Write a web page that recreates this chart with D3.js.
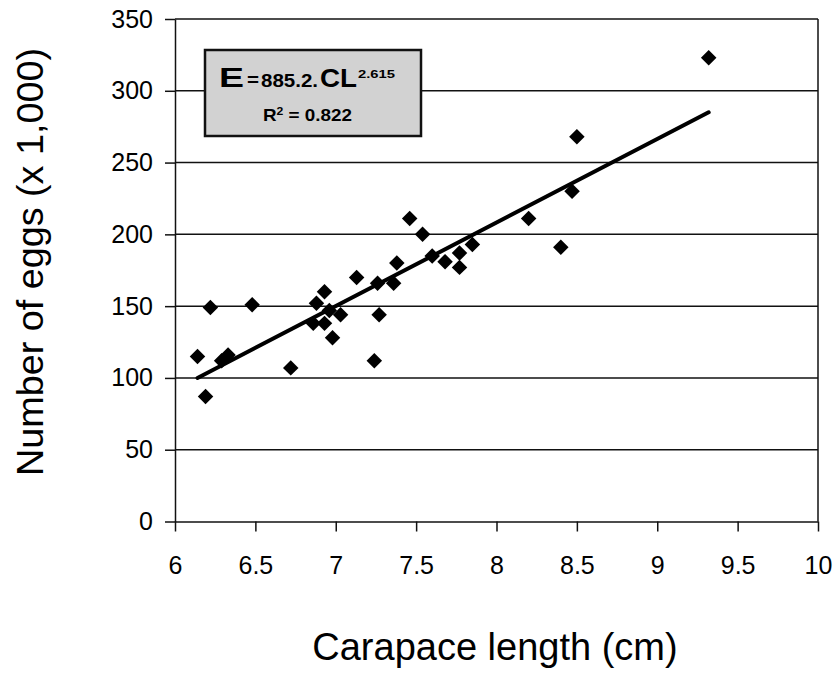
<!DOCTYPE html>
<html>
<head>
<meta charset="utf-8">
<script src="https://cdn.jsdelivr.net/npm/d3@7/dist/d3.min.js"></script>
<style>
    body { margin: 0; background: #fff; }
    svg { display: block; }
    text { font-family: "Liberation Sans", Arial, sans-serif; fill: #000; }
</style>
</head>
<body>
<script>
// carapace length (cm) and number of eggs (x 1,000)
var lengths = [6.14, 6.19, 6.22, 6.29, 6.33, 6.48, 6.72, 6.86, 6.88, 6.93, 6.93, 6.96, 6.98, 7.03,
               7.13, 7.24, 7.26, 7.27, 7.36, 7.38, 7.46, 7.54, 7.60, 7.68, 7.77, 7.77, 7.85,
               8.20, 8.40, 8.47, 8.50, 9.32];
var eggs = [115, 87, 149, 112, 116, 151, 107, 138, 152, 160, 138, 147, 128, 144,
            170, 112, 166, 144, 166, 180, 211, 200, 185, 181, 187, 177, 193,
            211, 191, 230, 268, 323];

// fitted line as drawn
var trendX = [6.14, 9.32];
var trendY = [100, 285];

var xTicks = [6, 6.5, 7, 7.5, 8, 8.5, 9, 9.5, 10];
var yTicks = [0, 50, 100, 150, 200, 250, 300, 350];

var width = 839;
var height = 675;

var svg = d3.select('body')
    .append('svg')
    .attr('width', width)
    .attr('height', height);

var x = d3.scaleLinear().domain([6, 10]).range([175, 818]);
var y = d3.scaleLinear().domain([0, 350]).range([521.5, 19]);

// gridlines
svg.append('g')
    .selectAll('line')
    .data(yTicks.filter(d => d > 0))
    .enter()
    .append('line')
    .attr('x1', x(6))
    .attr('x2', x(10))
    .attr('y1', d => y(d))
    .attr('y2', d => y(d))
    .attr('stroke', '#111')
    .attr('stroke-width', 1.5);

// right frame
svg.append('line')
    .attr('x1', x(10)).attr('x2', x(10))
    .attr('y1', y(0)).attr('y2', y(350))
    .attr('stroke', '#111')
    .attr('stroke-width', 1.5);

//axisx
var axisx = d3.axisBottom(x)
    .tickValues(xTicks)
    .tickFormat(d3.format('~g'))
    .tickSize(10)
    .tickSizeOuter(0)
    .tickPadding(25);
var gx = svg.append('g')
    .attr('transform', `translate(0,${y(0)})`)
    .call(axisx);

//axisy
var axisy = d3.axisLeft(y)
    .tickValues(yTicks)
    .tickSize(10)
    .tickSizeOuter(0)
    .tickPadding(12);
var gy = svg.append('g')
    .attr('transform', `translate(${x(6)},0)`)
    .call(axisy);

[gx, gy].forEach(g => {
    g.select('.domain').attr('stroke', '#111').attr('stroke-width', 1.5);
    g.selectAll('.tick line').attr('stroke', '#111').attr('stroke-width', 1.5);
    g.selectAll('.tick text')
        .style('font-family', '"Liberation Sans", Arial, sans-serif')
        .style('font-size', '25px')
        .attr('fill', '#000');
});

// regression line
svg.append('line')
    .attr('x1', x(trendX[0])).attr('y1', y(trendY[0]))
    .attr('x2', x(trendX[1])).attr('y2', y(trendY[1]))
    .attr('stroke', '#000')
    .attr('stroke-width', 4)
    .attr('stroke-linecap', 'round');

// points
svg.append('g')
    .selectAll('path')
    .data(lengths)
    .enter()
    .append('path')
    .attr('d', d3.symbol().type(d3.symbolSquare).size(120))
    .attr('transform', (d, i) => `translate(${x(d)},${y(eggs[i])}) rotate(45)`)
    .attr('fill', '#000');

// equation box
var box = svg.append('g');
box.append('rect')
    .attr('x', 205).attr('y', 50)
    .attr('width', 216).attr('height', 86)
    .attr('fill', '#d2d2d2')
    .attr('stroke', '#111')
    .attr('stroke-width', 2.5);

var eq = [
    {t: 'E', x: 219, y: 87, size: 27, len: 25},
    {t: '=', x: 247, y: 86, size: 18, len: 12},
    {t: '885.2.', x: 261, y: 87, size: 19, len: 57},
    {t: 'CL', x: 320, y: 87, size: 26, len: 37},
    {t: '2.615', x: 358, y: 78, size: 11, len: 37}
];
box.selectAll('text.eq')
    .data(eq)
    .enter()
    .append('text')
    .attr('class', 'eq')
    .attr('x', d => d.x)
    .attr('y', d => d.y)
    .attr('textLength', d => d.len)
    .attr('lengthAdjust', 'spacingAndGlyphs')
    .style('font-size', d => d.size + 'px')
    .style('font-weight', 'bold')
    .text(d => d.t);

var r2 = box.append('text')
    .attr('x', 263)
    .attr('y', 121)
    .attr('textLength', 89)
    .attr('lengthAdjust', 'spacingAndGlyphs')
    .style('font-size', '17px')
    .style('font-weight', 'bold');
r2.append('tspan').text('R');
r2.append('tspan').attr('dy', -6).style('font-size', '11px').text('2');
r2.append('tspan').attr('dy', 6).text(' = 0.822');

// axis titles
svg.append('text')
    .attr('x', 495)
    .attr('y', 660)
    .attr('text-anchor', 'middle')
    .style('font-size', '38px')
    .text('Carapace length (cm)');

svg.append('text')
    .attr('transform', 'translate(43,262) rotate(-90)')
    .attr('text-anchor', 'middle')
    .attr('textLength', 428)
    .attr('lengthAdjust', 'spacingAndGlyphs')
    .style('font-size', '37px')
    .text('Number of eggs (x 1,000)');
</script>
</body>
</html>
